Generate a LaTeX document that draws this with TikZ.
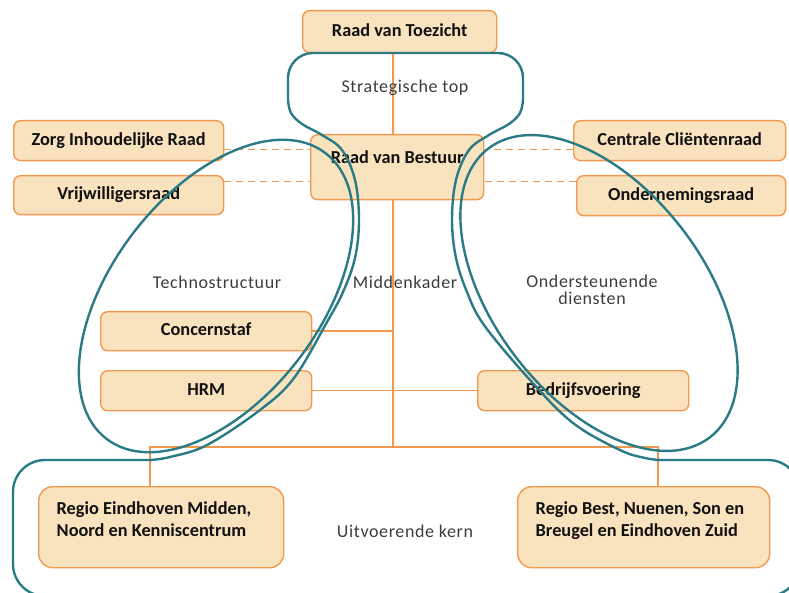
\documentclass[tikz,border=0pt]{standalone}
\usepackage{fontspec}
\setmainfont{Carlito}
\newfontfamily\labfont[LetterSpace=3.5]{Carlito}
\definecolor{orgline}{HTML}{F2994F}
\definecolor{orgfill}{HTML}{F9E3BF}
\definecolor{tealc}{HTML}{2A7B85}
\definecolor{labgray}{HTML}{3C3C3C}
\definecolor{boxtext}{HTML}{111111}
\pgfdeclarelayer{background}
\pgfsetlayers{background,main}
\tikzset{
  box/.style={draw=orgline, fill=orgfill, line width=1.4pt, rounded corners=7pt,
    font=\bfseries\fontsize{18.3}{22}\selectfont, text=boxtext,
    text height=13pt, text depth=4pt, inner sep=0pt, anchor=north west},
  regbox/.style={draw=orgline, fill=orgfill, line width=1.4pt, rounded corners=14pt,
    font=\bfseries\fontsize{18.3}{22}\selectfont, text=boxtext,
    inner xsep=18pt, inner ysep=0pt, anchor=north west},
  lab/.style={font=\labfont\fontsize{18}{16.5}\selectfont, text=labgray,
    align=center, inner sep=0pt},
  tie/.style={draw=orgline, line width=1.5pt},
  dashtie/.style={tie, dash pattern=on 7pt off 5pt},
  tealline/.style={draw=tealc, line width=2.4pt}
}
\begin{document}
\begin{tikzpicture}[x=1pt,y=-1pt]
\useasboundingbox (0,0) rectangle (789,593);
\clip (0,0) rectangle (789,593);

% labels
\node[lab] (st) at (405,88) {Strategische top};
\node[lab] (tech) at (217,282) {Technostructuur};
\node[lab] (mk) at (405,282) {Middenkader};
\node[lab] (od) at (592,290) {Ondersteunende\\diensten};
\node[lab] (uk) at (405,531) {Uitvoerende kern};

% boxes
\node[box, minimum width=194pt, minimum height=42pt] (rvt) at (302,10) {Raad van Toezicht};
\node[box, minimum width=210pt, minimum height=40pt] (zir) at (13,120) {Zorg Inhoudelijke Raad};
\node[box, minimum width=210pt, minimum height=39pt] (vwr) at (13,175) {Vrijwilligersraad};
\node[box, minimum width=173pt, minimum height=65pt, text depth=20pt] (rvb) at (310,134) {Raad van Bestuur};
\node[box, minimum width=212pt, minimum height=40pt] (ccr) at (573,120) {Centrale Cliëntenraad};
\node[box, minimum width=209pt, minimum height=40pt] (onr) at (576,175) {Ondernemingsraad};
\node[box, minimum width=211pt, minimum height=39pt] (cs) at (100,311) {Concernstaf};
\node[box, minimum width=211pt, minimum height=40pt] (hrm) at (100,370) {HRM};
\node[box, minimum width=211pt, minimum height=40pt] (bv) at (477,370) {Bedrijfsvoering};
\node[regbox] (r1) at (38,486) {\parbox[c][81pt][t]{209pt}{\rule{0pt}{28pt}Regio Eindhoven Midden,\\Noord en Kenniscentrum}};
\node[regbox] (r2) at (517,486) {\parbox[c][81pt][t]{216pt}{\rule{0pt}{28pt}Regio Best, Nuenen, Son en\\Breugel en Eindhoven Zuid}};

% connectors (under boxes)
\coordinate (spine) at (393,447);
\coordinate (hl) at (150,447);
\coordinate (hr) at (658,447);
\path (zir.east) ++(0,9) coordinate (d1);
\path (vwr.east) ++(0,-13.5) coordinate (d2);
\path (ccr.west) ++(0,9) coordinate (d3);
\path (onr.west) ++(0,-14) coordinate (d4);
\begin{pgfonlayer}{background}
\draw[tie] (spine |- rvt.south) -- (spine);
\draw[tie] (hl |- r1.north) -- (hl) -- (hr) -- (hr |- r2.north);
\draw[tie] (cs.east) -- (cs.east -| spine);
\draw[tie] (hrm.east) -- (bv.west);
\draw[dashtie] (d1) -- (d1 -| rvb.west);
\draw[dashtie] (d2) -- (d2 -| rvb.west);
\draw[dashtie] (d3) -- (d3 -| rvb.east);
\draw[dashtie] (d4) -- (d4 -| rvb.east);
\end{pgfonlayer}

% teal outlines
\draw[tealline, rotate around={52.5:(216,296)}] (216,296) ellipse [x radius=180pt, y radius=104pt];
\draw[tealline, rotate around={-52.5:(599,293)}] (599,293) ellipse [x radius=182pt, y radius=105pt];
\draw[tealline, rounded corners=25pt] (288,100) -- (288,53) -- (523,53) -- (523,100);
\draw[tealline] plot[smooth, tension=0.6] coordinates {(288,100) (291,113) (302,124) (322,135) (342,150) (355,180) (359,220) (355,258) (343,292) (327,322) (294,378) (260,410) (207,445) (170,457) (150,460)};
\draw[tealline] plot[smooth, tension=0.6] coordinates {(523,100) (520,113) (509,124) (489,135) (469,150) (456,180) (452,220) (456,258) (467,292) (484,325) (530,380) (573,423) (620,450) (645,458) (660,460)};
\draw[tealline, rounded corners=32pt] (152,460) -- (13,460) -- (13,596) -- (800,596) -- (800,460) -- (658,460);
\end{tikzpicture}
\end{document}
